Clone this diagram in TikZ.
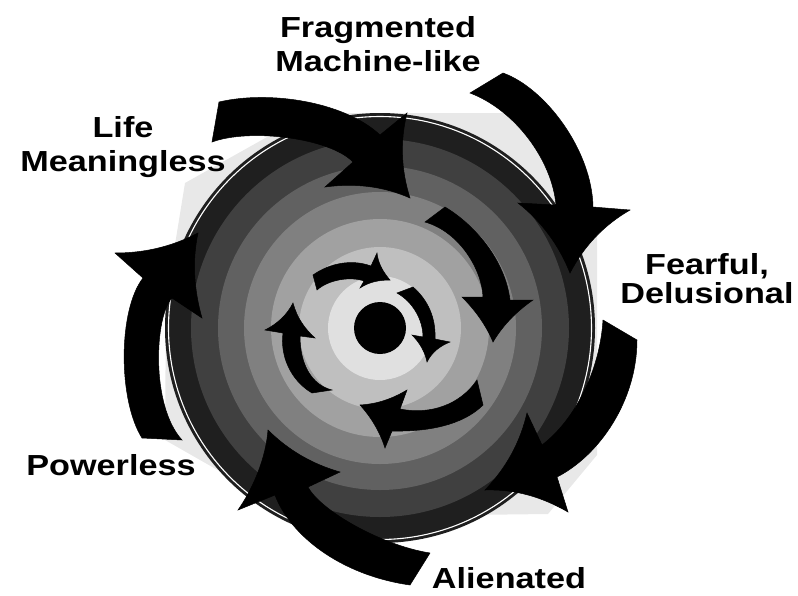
\documentclass[tikz,border=0pt]{standalone}
\usepackage{fontspec}
\setmainfont{Liberation Sans}[FakeStretch=1.18]
\begin{document}
\begin{tikzpicture}[x=1pt, y=-1pt, font=\bfseries]
        \tikzset{
            shadowFill/.style={fill=black!9},
            ringBand/.style={fill=black!#1},
            swirl/.style={fill=black, draw=black, line width=0.5pt, line join=miter},
            labelText/.style={align=center, inner sep=0pt, anchor=base}
        }
        \useasboundingbox (0,0) rectangle (798,595);

        % light shadow behind the disc
        \fill[shadowFill] (185,183) -- (310,113) -- (520,113) -- (597,235) -- (597,455) -- (548,514)
            -- (300,517) -- (165,440) -- (166,300) -- cycle;

        % concentric disc
        \fill[ringBand=88] (380,328) circle (215);
        \draw[white, line width=1.1pt] (380,328) circle (211.5);
        \foreach \r/\p in {189/75, 162/62, 136/50, 109/37, 81/25, 52/12}
            \fill[ringBand=\p] (380,328) circle (\r);
        \fill (380,328) circle (26);

        % outer swirl
        \fill[swirl] (212,142) -- (219,102) .. controls (270,90) and (345,102) .. (380,135)
            -- (407,113) .. controls (400,141) and (401,170) .. (410,198)
            .. controls (383,186) and (354,183) .. (325,187)
            -- (353,162) .. controls (330,138) and (250,128) .. cycle;
        \fill[swirl] (470,93) -- (503,73) .. controls (545,88) and (592,150) .. (593,207)
            -- (630,210) .. controls (604,225) and (584,246) .. (570,273)
            .. controls (559,245) and (541,221) .. (518,203)
            -- (556,205) .. controls (552,160) and (515,110) .. cycle;
        \fill[swirl] (603,320) -- (637,340) .. controls (637,400) and (600,455) .. (557,477)
            -- (568,512) .. controls (542,497) and (515,489) .. (485,490)
            .. controls (506,468) and (520,443) .. (527,413)
            -- (542,445) .. controls (575,420) and (600,370) .. cycle;
        \fill[swirl] (430,553) -- (410,585) .. controls (340,575) and (290,535) .. (275,495)
            -- (238,510) .. controls (254,487) and (266,457) .. (268,430)
            .. controls (288,450) and (312,464) .. (340,472)
            -- (308,487) .. controls (320,510) and (380,545) .. cycle;
        \fill[swirl] (182,440) -- (142,438) .. controls (118,400) and (118,310) .. (143,278)
            -- (115,253) .. controls (144,253) and (171,247) .. (198,233)
            .. controls (192,261) and (194,290) .. (202,318)
            -- (172,298) .. controls (155,315) and (150,405) .. cycle;

        % middle swirl
        \fill[swirl] (425,222) -- (445,207) .. controls (475,225) and (505,260) .. (510,300)
            -- (533,300) .. controls (517,311) and (503,325) .. (493,342)
            .. controls (486,325) and (475,310) .. (462,297)
            -- (483,297) .. controls (482,270) and (460,232) .. cycle;
        \fill[swirl] (477,380) -- (483,405) .. controls (468,420) and (440,432) .. (392,431)
            -- (385,448) .. controls (380,432) and (371,417) .. (360,405)
            .. controls (377,404) and (392,399) .. (407,390)
            -- (400,409) .. controls (430,415) and (460,405) .. cycle;

        % inner swirl
        \fill[swirl] (317,290) -- (313,275) .. controls (330,263) and (352,259) .. (371,266)
            -- (377,253) .. controls (378,263) and (383,272) .. (390,280)
            .. controls (379,280) and (369,282) .. (360,288)
            -- (364,281) .. controls (350,276) and (328,280) .. cycle;
        \fill[swirl] (397,293) -- (413,287) .. controls (428,300) and (436,318) .. (435,339)
            -- (450,342) .. controls (440,346) and (432,352) .. (427,362)
            .. controls (425,352) and (420,343) .. (412,335)
            -- (423,337) .. controls (423,320) and (413,302) .. cycle;
        \fill[swirl] (332,390) -- (312,393) .. controls (290,380) and (280,355) .. (283,333)
            -- (265,330) .. controls (277,324) and (287,315) .. (293,303)
            .. controls (297,318) and (305,329) .. (315,338)
            -- (300,336) .. controls (300,365) and (312,385) .. cycle;

        \node[labelText, font=\bfseries\fontsize{29}{34}\selectfont] (fragLabel) at (378,71) {Fragmented\\Machine-like};
        \node[labelText, font=\bfseries\fontsize{29}{29}\selectfont] (fearLabel) at (707,303) {Fearful,\\Delusional};
        \node[labelText, font=\bfseries\fontsize{29}{34}\selectfont] (alienLabel) at (509,588) {Alienated};
        \node[labelText, font=\bfseries\fontsize{29}{34}\selectfont] (powerLabel) at (111,475) {Powerless};
        \node[labelText, font=\bfseries\fontsize{29}{34}\selectfont] (lifeLabel) at (123,171) {Life\\Meaningless};
    \end{tikzpicture}
\end{document}
